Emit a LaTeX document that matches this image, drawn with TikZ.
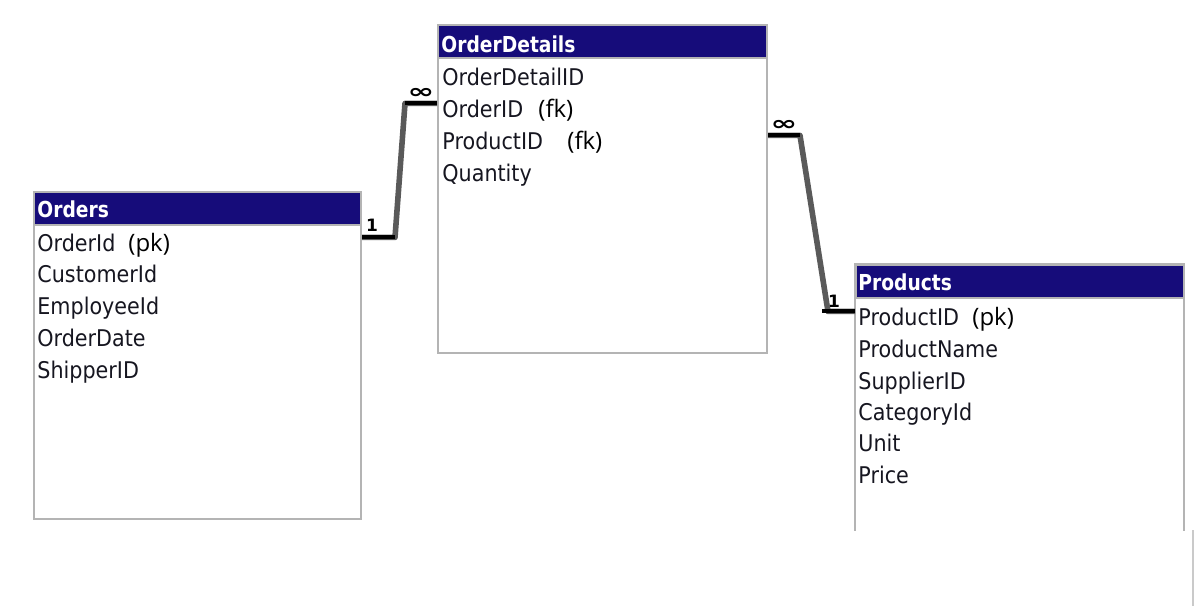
\documentclass[tikz,border=0pt]{standalone}
\usepackage{fontspec}
\setmainfont{DejaVu Sans}
\newfontfamily\fieldfont[FakeStretch=0.9]{DejaVu Sans}
\newfontfamily\headfont[FakeStretch=0.85]{DejaVu Sans}
\newfontfamily\keyfont{Open Sans}
\usetikzlibrary{calc}

\definecolor{hdrblue}{RGB}{22,12,122}
\definecolor{framegray}{RGB}{180,180,180}
\definecolor{linkgray}{RGB}{90,90,90}
\definecolor{fieldink}{RGB}{22,22,32}

\tikzset{
  tablebox/.style={draw=framegray, line width=1pt, anchor=north west, inner sep=0pt},
  headbar/.style={fill=hdrblue, draw=framegray, line width=0.8pt, anchor=north west, inner sep=0pt, minimum height=16.5pt},
  headtext/.style={anchor=base west, inner sep=0pt, text=white, font=\headfont\bfseries\fontsize{11}{13}\selectfont},
  field/.style={anchor=base west, inner sep=0pt, text=fieldink, font=\fieldfont\fontsize{11.5}{13}\selectfont},
  keynote/.style={anchor=base west, inner sep=0pt, font=\keyfont\fontsize{12}{14}\selectfont},
  link/.style={draw=linkgray, line width=2.8pt, line join=round},
  stub/.style={draw=black, line width=2pt},
  card/.style={inner sep=0pt, font=\bfseries\fontsize{8.5}{9}\selectfont},
  cardmany/.style={inner sep=0pt, font=\bfseries\fontsize{10}{10}\selectfont}
}

\begin{document}
\begin{tikzpicture}[x=0.5pt,y=-0.5pt]
\useasboundingbox (0,0) rectangle (1196,606);

% Orders table
\node[tablebox, minimum width=163.5pt, minimum height=163.5pt] (orders) at (33,191) {};
\node[headbar, minimum width=163.5pt] (ordersh) at (orders.north west) {};
\node[headtext] (ordersT) at (37,217) {Orders};
\node[field] (o1) at (37,251) {OrderId};
\node[field] (o2) at (37,282) {CustomerId};
\node[field] (o3) at (37,314) {EmployeeId};
\node[field] (o4) at (37,346) {OrderDate};
\node[field] (o5) at (37,378) {ShipperID};
\node[keynote] (o1k) at (128,251) {(pk)};

% OrderDetails table
\node[tablebox, minimum width=164.5pt, minimum height=164pt] (od) at (437,24) {};
\node[headbar, minimum width=164.5pt] (odh) at (od.north west) {};
\node[headtext] (odT) at (441,52) {OrderDetails};
\node[field] (d1) at (442,85) {OrderDetailID};
\node[field] (d2) at (442,117) {OrderID};
\node[field] (d3) at (442,149) {ProductID};
\node[field] (d4) at (442,181) {Quantity};
\node[keynote] (d2k) at (538,117) {(fk)};
\node[keynote] (d3k) at (567,149) {(fk)};

% Products table (bottom edge cut off)
\node[anchor=north west, inner sep=0pt, minimum width=164pt, minimum height=133pt] (prod) at (855,264) {};
\draw[framegray, line width=1pt] (prod.south west) -- (prod.north west) -- (prod.north east) -- (prod.south east);
\node[headbar, minimum width=164pt] (prodh) at (prod.north west) {};
\node[headtext] (prodT) at (858,290) {Products};
\node[field] (p1) at (858,325) {ProductID};
\node[field] (p2) at (858,357) {ProductName};
\node[field] (p3) at (858,389) {SupplierID};
\node[field] (p4) at (858,420) {CategoryId};
\node[field] (p5) at (858,451) {Unit};
\node[field] (p6) at (858,483) {Price};
\node[keynote] (p1k) at (972,325) {(pk)};

% stray edge at the lower right
\draw[framegray!70, line width=1pt] (1193,530) -- (1193,606);

% Orders -- OrderDetails
\coordinate (l1s) at ($(orders.east |- o1.east)+(0,-5)$);
\coordinate (l1e) at ($(od.west |- d2.east)+(0,-5)$);
\draw[link] (l1s) -- ++(33,0) -- ($(l1e)+(-32,0)$) -- (l1e);
\draw[stub] (l1s) -- ++(33,0);
\draw[stub] (l1e) -- ++(-32,0);
\node[card] (c1) at (372,225) {1};
\node[cardmany] (c2) at (421,93) {\scalebox{1.6}[1]{∞}};

% OrderDetails -- Products
\coordinate (l2s) at ($(od.east |- d3.east)+(0,-5)$);
\coordinate (l2e) at ($(prod.west |- p1.east)+(0,-5)$);
\draw[link] (l2s) -- ++(32,0) -- ($(l2e)+(-27,0)$) -- (l2e);
\draw[stub] (l2s) -- ++(32,0);
\draw[stub] (l2e) -- ++(-33,0);
\node[cardmany] (c3) at (784,125) {\scalebox{1.6}[1]{∞}};
\node[card] (c4) at (834,301) {1};

\end{tikzpicture}
\end{document}
